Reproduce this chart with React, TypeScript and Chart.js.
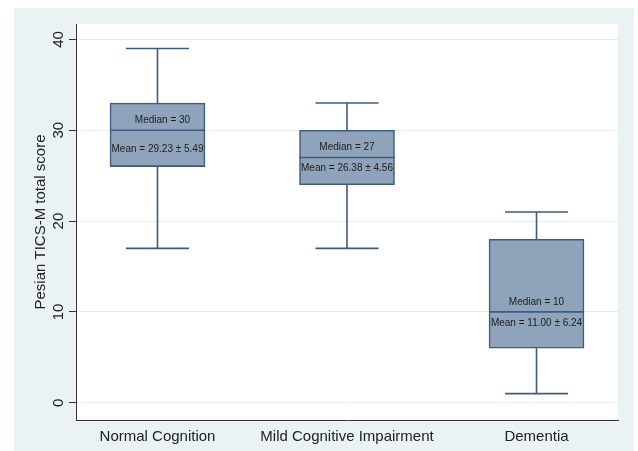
import React, { useEffect, useRef } from "react";
import { Chart, registerables } from "chart.js";

Chart.register(...registerables);

const categories = ["Normal Cognition", "Mild Cognitive Impairment", "Dementia"];
const whiskerLow = [17, 17, 1];
const q1 = [26, 24, 6];
const medians = [30, 27, 10];
const q3 = [33, 30, 18];
const whiskerHigh = [39, 33, 21];
const means = ["29.23", "26.38", "11.00"];
const sds = ["5.49", "4.56", "6.24"];
const yTicks = [0, 10, 20, 30, 40];

const BG = "#eaf2f3";
const FILL = "#8fa3ba";
const EDGE = "#3d5c80";
const FONT = "'Liberation Sans', Arial, sans-serif";

export default function App() {
  const ref = useRef<HTMLCanvasElement | null>(null);

  useEffect(() => {
    const canvas = ref.current;
    if (!canvas) return;

    const bgPlugin = {
      id: "bgPlugin",
      beforeDraw(chart: any) {
        const ctx = chart.ctx;
        const { left, top, right, bottom } = chart.chartArea;
        ctx.save();
        ctx.fillStyle = "#ffffff";
        ctx.fillRect(0, 0, chart.width, chart.height);
        ctx.fillStyle = BG;
        ctx.fillRect(14, 8, 620, 443);
        ctx.fillStyle = "#ffffff";
        ctx.fillRect(left, top, right - left, bottom - top);
        ctx.restore();
      },
    };

    const boxPlugin = {
      id: "boxPlugin",
      beforeDatasetsDraw(chart: any) {
        const ctx = chart.ctx;
        const xs = chart.scales.x;
        const ys = chart.scales.y;
        ctx.save();
        ctx.strokeStyle = EDGE;
        ctx.lineWidth = 1.6;
        categories.forEach((_, i) => {
          const cx = xs.getPixelForValue(i);
          const capHalf = 31.5;
          const yLo = ys.getPixelForValue(whiskerLow[i]);
          const yHi = ys.getPixelForValue(whiskerHigh[i]);
          const yQ1 = ys.getPixelForValue(q1[i]);
          const yQ3 = ys.getPixelForValue(q3[i]);
          ctx.beginPath();
          ctx.moveTo(cx, yQ3);
          ctx.lineTo(cx, yHi);
          ctx.moveTo(cx - capHalf, yHi);
          ctx.lineTo(cx + capHalf, yHi);
          ctx.moveTo(cx, yQ1);
          ctx.lineTo(cx, yLo);
          ctx.moveTo(cx - capHalf, yLo);
          ctx.lineTo(cx + capHalf, yLo);
          ctx.stroke();
        });
        ctx.restore();
      },
      afterDatasetsDraw(chart: any) {
        const ctx = chart.ctx;
        const xs = chart.scales.x;
        const ys = chart.scales.y;
        const meanOffset = [19, 11, 11];
        ctx.save();
        categories.forEach((_, i) => {
          const cx = xs.getPixelForValue(i);
          const ym = ys.getPixelForValue(medians[i]);
          ctx.strokeStyle = EDGE;
          ctx.lineWidth = 1.6;
          ctx.beginPath();
          ctx.moveTo(cx - 47.5, ym);
          ctx.lineTo(cx + 47.5, ym);
          ctx.stroke();
          ctx.fillStyle = "#1e1e1e";
          ctx.font = `10px ${FONT}`;
          ctx.textAlign = "center";
          ctx.textBaseline = "middle";
          ctx.fillText(`Median = ${medians[i]}`, cx + (i === 0 ? 5 : 0), ym - 10);
          ctx.fillText(`Mean = ${means[i]} ± ${sds[i]}`, cx, ym + meanOffset[i]);
        });
        // y tick labels (rotated)
        ctx.fillStyle = "#222";
        ctx.font = `15px ${FONT}`;
        ctx.textAlign = "center";
        ctx.textBaseline = "middle";
        yTicks.forEach((t) => {
          const py = ys.getPixelForValue(t);
          ctx.save();
          ctx.translate(59, py);
          ctx.rotate(-Math.PI / 2);
          ctx.fillText(String(t), 0, 0);
          ctx.restore();
        });
        // y title
        const { top, bottom } = chart.chartArea;
        ctx.save();
        ctx.translate(41, (top + bottom) / 2);
        ctx.rotate(-Math.PI / 2);
        ctx.font = `15px ${FONT}`;
        ctx.fillText("Pesian TICS-M total score", 0, 0);
        ctx.restore();
        ctx.restore();
      },
    };

    const chart = new Chart(canvas, {
      type: "bar",
      data: {
        datasets: [
          {
            data: categories.map((_, i) => ({ x: i, y: [q1[i], q3[i]] })) as any,
            backgroundColor: FILL,
            borderColor: EDGE,
            borderWidth: 1.6,
            borderSkipped: false,
            barThickness: 95,
          },
        ],
      },
      options: {
        responsive: false,
        animation: false,
        layout: { padding: { left: 14, top: 24, right: 20, bottom: 1 } },
        plugins: { legend: { display: false }, tooltip: { enabled: false } },
        scales: {
          x: {
            type: "linear",
            offset: false,
            min: -0.43,
            max: 2.43,
            afterBuildTicks: (s: any) => {
              s.ticks = categories.map((_, i) => ({ value: i }));
            },
            afterFit: (s: any) => {
              s.height = 30;
            },
            grid: { display: false, drawTicks: false },
            border: { display: true, color: "#333", width: 1 },
            ticks: {
              padding: 8,
              color: "#222",
              font: { family: FONT, size: 15 },
              maxRotation: 0,
              minRotation: 0,
              callback: (v: any) => categories[v as number] ?? "",
            },
          },
          y: {
            type: "linear",
            min: -1.9,
            max: 41.7,
            afterBuildTicks: (s: any) => {
              s.ticks = yTicks.map((v) => ({ value: v }));
            },
            afterFit: (s: any) => {
              s.width = 62;
            },
            grid: {
              color: "#e4eef0",
              lineWidth: 1,
              drawTicks: true,
              tickLength: 7,
              tickColor: "#333",
            },
            border: { display: true, color: "#333", width: 1 },
            ticks: { display: false },
          },
        },
      },
      plugins: [bgPlugin, boxPlugin],
    } as any);

    return () => chart.destroy();
  }, []);

  return (
    <div style={{ position: "absolute", left: 0, top: 0, width: 638, height: 451 }}>
      <canvas ref={ref} width={638} height={451} style={{ display: "block" }} />
    </div>
  );
}
